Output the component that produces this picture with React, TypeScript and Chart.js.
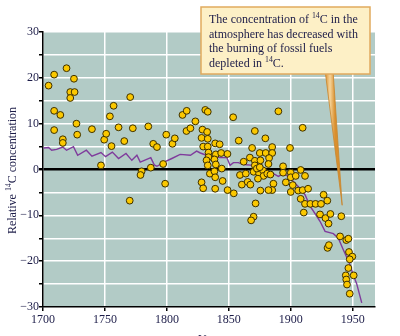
import React, { useEffect, useRef } from "react";
import { Chart, registerables } from "chart.js";

Chart.register(...registerables);

// ---- data ----
const sampleYears = [
  1704.5, 1709, 1709, 1709, 1714, 1719, 1716, 1716, 1722, 1722, 1725, 1725.5, 1727, 1727.6, 1739.5,
  1746.8, 1749.4, 1751, 1754, 1755.3, 1757, 1761, 1765.6, 1770.4, 1772.5, 1770, 1779.6, 1778.7, 1785,
  1787, 1789, 1792, 1797, 1798.6, 1799.5, 1804.5, 1806.4, 1812.6, 1816, 1815.8, 1819, 1823,
  1831, 1833, 1853.5, 1828.7, 1832.5, 1828, 1833, 1839, 1842.6, 1858, 1871, 1879.5, 1829.3, 1833,
  1833.6, 1839.5, 1843.8, 1848.9, 1868.8, 1875, 1879.8, 1867, 1871, 1862, 1833.6, 1838.4, 1832, 1833,
  1839.5, 1844.3, 1834.7, 1838.4, 1839, 1828, 1829.3, 1839, 1845, 1849, 1854, 1859, 1863.7, 1870,
  1874.4, 1877.6, 1871, 1872.6, 1875, 1878, 1860.5, 1865.2, 1867.4, 1871.6, 1870, 1868,
  1890, 1909.6, 1885, 1899.4, 1885, 1882.5, 1882, 1875.5, 1893.8, 1893.8, 1900, 1900, 1904, 1908,
  1911.5, 1886, 1885, 1882, 1875.5, 1896, 1901.6, 1900, 1906, 1909.6, 1914, 1908, 1911.5, 1915.8,
  1920, 1924.4, 1910.5, 1923.6, 1926.5, 1881, 1883.6, 1873.5,
  1929.5, 1928, 1932, 1930.5, 1940.8, 1939.8, 1944.8, 1946.5, 1929.7, 1930.8, 1947, 1949.7, 1947.6,
  1946.5, 1944.4, 1950.8, 1944.8, 1945.4, 1947.6,
];
const sampleValues = [
  18.3, 20.7, 12.8, 8.6, 11.9, 22.1, 6.6, 5.8, 16.9, 15.6, 19.8, 16.9, 10.0, 7.6, 8.8,
  0.9, 6.5, 7.8, 11.6, 5.1, 13.9, 9.2, 6.2, 15.8, 9.0, -6.8, -0.4, -1.2, 9.4,
  0.4, 5.6, 4.9, 1.2, -3.1, 7.6, 5.6, 6.8, 11.9, 12.8, 8.4, 9.0, 10.5,
  13.0, 12.6, 11.4, 8.7, 8.2, 6.9, 6.7, 5.7, 5.5, 6.3, 8.4, 6.8, 5.0, 5.0,
  3.7, 3.3, 3.6, 3.4, 4.7, 3.6, 3.6, 2.6, 1.9, 1.7, 2.7, 2.2, 2.0, 0.9,
  1.1, 0.2, -0.9, -0.4, -1.7, -2.8, -4.1, -4.2, -2.5, -4.5, -5.2, -1.2, -0.9, -0.5,
  -0.8, -0.2, 0.9, 0.2, 0.5, -1.4, -3.3, -2.7, -3.3, -7.4, -10.3, -11.1,
  12.7, 9.1, 4.9, 4.7, 3.6, 2.5, 1.2, 2.0, 0.7, -0.7, -0.7, -1.7, -1.4, -0.1,
  -1.4, -3.1, -4.5, -4.5, -4.6, -2.8, -3.4, -4.9, -4.6, -4.5, -4.2, -6.4, -7.5, -7.5,
  -7.5, -7.5, -9.4, -9.8, -5.5, -0.9, -1.1, -2.0,
  -6.8, -10.6, -9.7, -11.8, -10.2, -14.6, -15.4, -15.1, -17.1, -16.5, -18, -19, -19.6,
  -21.5, -23.1, -23.1, -24.0, -25.1, -27.1,
];
const curveYears = [
  1700.5, 1704.5, 1707, 1711, 1716, 1719, 1724.6, 1728, 1735, 1739.5, 1746.8, 1750.5, 1756, 1761,
  1767, 1771.7, 1775.8, 1778.5, 1787, 1789.8, 1792, 1798.6, 1804, 1810.7, 1819, 1824, 1827, 1833,
  1843, 1848.4, 1851, 1853.7, 1857.7, 1861.8, 1869.8, 1880, 1886, 1890, 1894, 1898, 1906, 1911.5,
  1915.6, 1921, 1923.6, 1927.7, 1934.4, 1938.4, 1942.4, 1947.3, 1950.5, 1953.2, 1957.3,
];
const curveValues = [
  4.7, 4.8, 4.2, 4.4, 4.9, 4.2, 5.0, 3.1, 4.2, 2.9, 3.7, 2.8, 3.8, 2.4,
  3.5, 2.0, 3.1, 1.6, 2.6, 1.0, 0.7, 1.7, 2.4, 3.3, 3.1, 4.0, 3.6, 3.0,
  2.6, 2.6, 0.9, 1.5, 1.5, 1.1, 0.9, -0.3, -0.9, -1.5, -0.9, -1.5, -3.7, -5.5,
  -8.0, -10.2, -11.3, -13.5, -14.0, -15.0, -17.5, -20.4, -23.0, -24.9, -29.1,
];
const xTickValues = [1700, 1750, 1800, 1850, 1900, 1950];
const yTickValues = [-30, -25, -20, -15, -10, -5, 0, 5, 10, 15, 20, 25, 30];
const yTitleParts = ["Relative ", "14", "C concentration"];
const xTitle = "Year";
const noteLines: [string, boolean][][] = [
  [["The concentration of ", false], ["14", true], ["C in the", false]],
  [["atmosphere has decreased with", false]],
  [["the burning of fossil fuels", false]],
  [["depleted in ", false], ["14", true], ["C.", false]],
];

const SERIF = '"Liberation Serif", "Times New Roman", "DejaVu Serif", serif';
const TEXT = "#1c1c48";

function drawSegments(ctx: CanvasRenderingContext2D, segs: [string, boolean][], x: number, y: number, size: number) {
  let cx = x;
  for (const [t, sup] of segs) {
    const s = sup ? size * 0.65 : size;
    ctx.font = `${s}px ${SERIF}`;
    ctx.fillText(t, cx, sup ? y - size * 0.4 : y);
    cx += ctx.measureText(t).width;
  }
  return cx - x;
}

function measureSegments(ctx: CanvasRenderingContext2D, segs: [string, boolean][], size: number) {
  let w = 0;
  for (const [t, sup] of segs) {
    ctx.font = `${sup ? size * 0.65 : size}px ${SERIF}`;
    w += ctx.measureText(t).width;
  }
  return w;
}

const decorPlugin = {
  id: "decor",
  beforeDraw(chart: any) {
    const { ctx, chartArea: a } = chart;
    ctx.save();
    ctx.fillStyle = "#b2cbc6";
    ctx.fillRect(a.left, a.top, a.right - a.left, a.bottom - a.top);
    ctx.restore();
  },
  afterDraw(chart: any) {
    const { ctx, chartArea: a } = chart;
    ctx.save();
    // y axis title
    const ySegs: [string, boolean][] = [
      [yTitleParts[0], false],
      [yTitleParts[1], true],
      [yTitleParts[2], false],
    ];
    const w = measureSegments(ctx, ySegs, 12);
    ctx.translate(16, (a.top + a.bottom) / 2 + 1);
    ctx.rotate(-Math.PI / 2);
    ctx.fillStyle = TEXT;
    ctx.textBaseline = "alphabetic";
    drawSegments(ctx, ySegs, -w / 2, 0, 12);
    ctx.restore();

    // x axis title (mostly outside the page)
    ctx.save();
    ctx.fillStyle = TEXT;
    ctx.font = `12px ${SERIF}`;
    ctx.textAlign = "center";
    ctx.textBaseline = "top";
    ctx.fillText(xTitle, (a.left + a.right) / 2, 333.5);
    ctx.restore();

    // callout pointer
    ctx.save();
    const tipX = chart.scales.x.getPixelForValue(1941.5);
    const tipY = chart.scales.y.getPixelForValue(-7.8);
    const grad = ctx.createLinearGradient(325, 0, 335, 0);
    grad.addColorStop(0, "#d98f2e");
    grad.addColorStop(0.5, "#f6d49a");
    grad.addColorStop(1, "#d98f2e");
    ctx.beginPath();
    ctx.moveTo(325, 70);
    ctx.lineTo(333, 70);
    ctx.lineTo(tipX, tipY);
    ctx.closePath();
    ctx.fillStyle = grad;
    ctx.fill();
    ctx.strokeStyle = "#c9852c";
    ctx.lineWidth = 0.8;
    ctx.stroke();

    // callout box
    ctx.fillStyle = "#fdf0c6";
    ctx.fillRect(201, 7, 169, 67);
    ctx.strokeStyle = "#e1aa5e";
    ctx.lineWidth = 1.5;
    ctx.strokeRect(201, 7, 169, 67);
    ctx.fillStyle = TEXT;
    ctx.textBaseline = "alphabetic";
    noteLines.forEach((segs, i) => {
      drawSegments(ctx, segs, 209, 23 + i * 14.5, 12);
    });
    ctx.restore();
  },
};

export default function App() {
  const ref = useRef<HTMLCanvasElement>(null);
  useEffect(() => {
    const canvas = ref.current;
    if (!canvas) return;
    const chart = new Chart(canvas, {
      type: "scatter",
      data: {
        datasets: [
          {
            type: "scatter",
            label: "samples",
            data: sampleYears.map((x, i) => ({ x, y: sampleValues[i] })),
            pointRadius: 3.4,
            pointBackgroundColor: "#fbc800",
            pointBorderColor: "#3d3000",
            pointBorderWidth: 1,
            order: 1,
          },
          {
            type: "line",
            label: "atmosphere",
            data: curveYears.map((x, i) => ({ x, y: curveValues[i] })),
            borderColor: "#7f3b9c",
            borderWidth: 1.4,
            pointRadius: 0,
            tension: 0,
            fill: false,
            order: 2,
          },
        ],
      },
      options: {
        animation: false,
        responsive: false,
        devicePixelRatio: 1,
        layout: { padding: { left: 0, top: 32, right: 25, bottom: 0 } },
        plugins: { legend: { display: false }, tooltip: { enabled: false }, title: { display: false } },
        scales: {
          x: {
            type: "linear",
            min: 1700,
            max: 1968,
            afterBuildTicks: (s: any) => {
              s.ticks = xTickValues.map((v) => ({ value: v }));
            },
            afterFit: (s: any) => {
              s.height = 29;
            },
            border: { color: "#000", width: 1.5 },
            grid: {
              color: "#ffffff",
              lineWidth: 1.5,
              tickColor: "#000",
              tickLength: 4,
              drawTicks: true,
            },
            ticks: {
              padding: 2,
              maxRotation: 0,
              color: TEXT,
              font: { family: SERIF, size: 12 },
              callback: (v: any) => String(v),
            },
          },
          y: {
            type: "linear",
            min: -30,
            max: 30,
            afterBuildTicks: (s: any) => {
              s.ticks = yTickValues.map((v) => ({ value: v }));
            },
            afterFit: (s: any) => {
              s.width = 43;
            },
            border: { color: "#000", width: 1.5 },
            grid: {
              color: (c: any) => (c.tick && c.tick.value === 0 ? "#000000" : "#ffffff"),
              lineWidth: (c: any) => (c.tick && c.tick.value === 0 ? 2.4 : 1.5),
              tickColor: "#000",
              tickLength: 4,
            },
            ticks: {
              padding: 0,
              color: TEXT,
              font: { family: SERIF, size: 12 },
              callback: (v: any) => {
                const n = Number(v);
                if (n % 10 !== 0) return "";
                return n < 0 ? "\u2212" + Math.abs(n) : String(n);
              },
            },
          },
        },
      },
      plugins: [decorPlugin],
    } as any);
    return () => chart.destroy();
  }, []);
  return (
    <div style={{ position: "fixed", left: 0, top: 0, width: 400, height: 336, overflow: "hidden", background: "#fff" }}>
      <canvas ref={ref} width={400} height={336} style={{ display: "block" }} />
    </div>
  );
}
